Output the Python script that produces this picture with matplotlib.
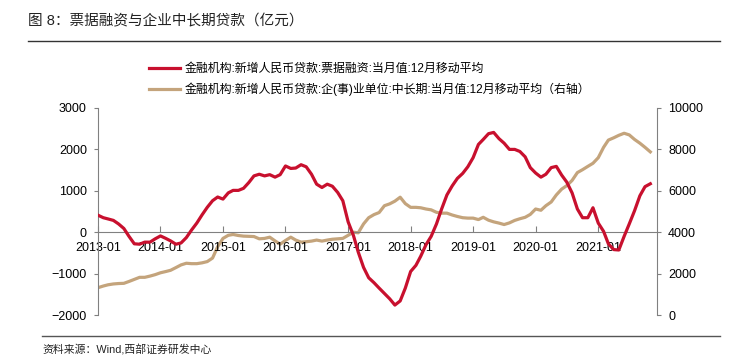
import matplotlib
matplotlib.use("Agg")
import matplotlib.pyplot as plt
import matplotlib.dates as mdates
from matplotlib.lines import Line2D
import pandas as pd

plt.rcParams['font.family'] = ['Liberation Sans', 'Noto Sans CJK SC', 'DejaVu Sans']

# 2013-01 .. 2021-11, monthly
months = pd.date_range('2013-01-01', periods=107, freq='MS')

# 票据融资 12月移动平均 (左轴, 亿元)
bill_financing = [
    410, 350, 320, 285, 200, 90, -100, -280, -290, -240, -240, -160,
    -90, -150, -210, -290, -260, -130, 50, 220, 420, 600, 760, 850,
    800, 950, 1010, 1010, 1060, 1200, 1360, 1400, 1360, 1390, 1330, 1390,
    1600, 1540, 1550, 1630, 1580, 1400, 1160, 1080, 1160, 1110, 960, 760,
    250, -80, -480, -850, -1100, -1220, -1350, -1480, -1610, -1760, -1660, -1350,
    -950, -800, -580, -300, -100, 200, 560, 900, 1120, 1300, 1420, 1580,
    1800, 2120, 2240, 2380, 2410, 2260, 2150, 2000, 2000, 1950, 1820, 1560,
    1430, 1330, 1400, 1560, 1590, 1380, 1210, 950, 560, 350, 350, 590,
    220, 20, -280, -420, -430, -100, 200, 520, 880, 1100, 1170,
]

# 企(事)业单位中长期 12月移动平均 (右轴, 亿元)
mid_long_term = [
    1320, 1400, 1460, 1500, 1520, 1530, 1620, 1720, 1820, 1820, 1880, 1950,
    2040, 2100, 2160, 2290, 2420, 2500, 2480, 2480, 2520, 2580, 2750, 3300,
    3700, 3850, 3890, 3840, 3810, 3800, 3790, 3680, 3700, 3760, 3580, 3420,
    3600, 3760, 3620, 3520, 3540, 3570, 3620, 3570, 3620, 3660, 3680, 3700,
    3850, 4000, 3970, 4400, 4700, 4850, 4950, 5280, 5370, 5500, 5690, 5380,
    5200, 5200, 5180, 5120, 5080, 4960, 4920, 4920, 4830, 4760, 4700, 4680,
    4680, 4610, 4720, 4580, 4500, 4440, 4370, 4450, 4570, 4650, 4720, 4860,
    5120, 5060, 5280, 5460, 5800, 6080, 6250, 6500, 6880, 7020, 7180, 7330,
    7600, 8100, 8450, 8560, 8680, 8780, 8700, 8480, 8300, 8100, 7880,
]

label_red = '金融机构:新增人民币贷款:票据融资:当月值:12月移动平均'
label_tan = '金融机构:新增人民币贷款:企(事)业单位:中长期:当月值:12月移动平均（右轴）'

red = '#C8102E'
tan = '#C4A47C'
grey = '#808080'

fig = plt.figure(figsize=(7.31, 3.64), dpi=100)
ax = fig.add_axes([98 / 731, 1 - 315 / 364, (657 - 98) / 731, (315 - 108) / 364])
ax2 = ax.twinx()

ax.plot(months, bill_financing, color=red, lw=2.3, zorder=3)
ax2.plot(months, mid_long_term, color=tan, lw=2.3, zorder=2)
ax.set_zorder(ax2.get_zorder() + 1)
ax.patch.set_visible(False)

ax.set_ylim(-2000, 3000)
ax.set_yticks([-2000, -1000, 0, 1000, 2000, 3000])
ax2.set_ylim(0, 10000)
ax2.set_yticks([0, 2000, 4000, 6000, 8000, 10000])
ax.set_xlim(pd.Timestamp('2013-01-01'), pd.Timestamp('2021-12-10'))
ax.xaxis.set_major_locator(mdates.YearLocator())
ax.xaxis.set_major_formatter(mdates.DateFormatter('%Y-%m'))

for a in (ax, ax2):
    a.spines['top'].set_visible(False)
    for s in a.spines.values():
        s.set_color(grey)
        s.set_linewidth(0.8)
ax.spines['right'].set_visible(False)
ax2.spines['left'].set_visible(False)
ax2.spines['bottom'].set_visible(False)
ax.spines['bottom'].set_position(('data', 0))

ax.tick_params(axis='x', direction='in', length=4, pad=7, color=grey, labelsize=9)
ax.tick_params(axis='y', direction='out', length=3, pad=5, color=grey, labelsize=9)
ax2.tick_params(axis='y', direction='out', length=3, pad=5, color=grey, labelsize=9)

handles = [Line2D([], [], color=red, lw=2.3), Line2D([], [], color=tan, lw=2.3)]
fig.legend(handles, [label_red, label_tan], loc='upper left',
           bbox_to_anchor=(149 / 731, 1 - 63 / 364), frameon=False,
           fontsize=8.6, handlelength=2.6, handletextpad=0.4, labelspacing=0.6,
           borderaxespad=0, borderpad=0)

fig.text(28 / 731, 1 - 21 / 364, '图 8：票据融资与企业中长期贷款（亿元）',
         fontsize=10.5, va='center', ha='left', color='#222222')
fig.add_artist(Line2D([28 / 731, 720 / 731], [1 - 41 / 364] * 2, color='#333333', lw=1))
fig.add_artist(Line2D([42 / 731, 720 / 731], [1 - 336 / 364] * 2, color='#555555', lw=1))
fig.text(42 / 731, 1 - 350 / 364, '资料来源：Wind,西部证券研发中心',
         fontsize=7.8, va='center', ha='left', color='#222222')

fig.savefig('out.png', dpi=100)
